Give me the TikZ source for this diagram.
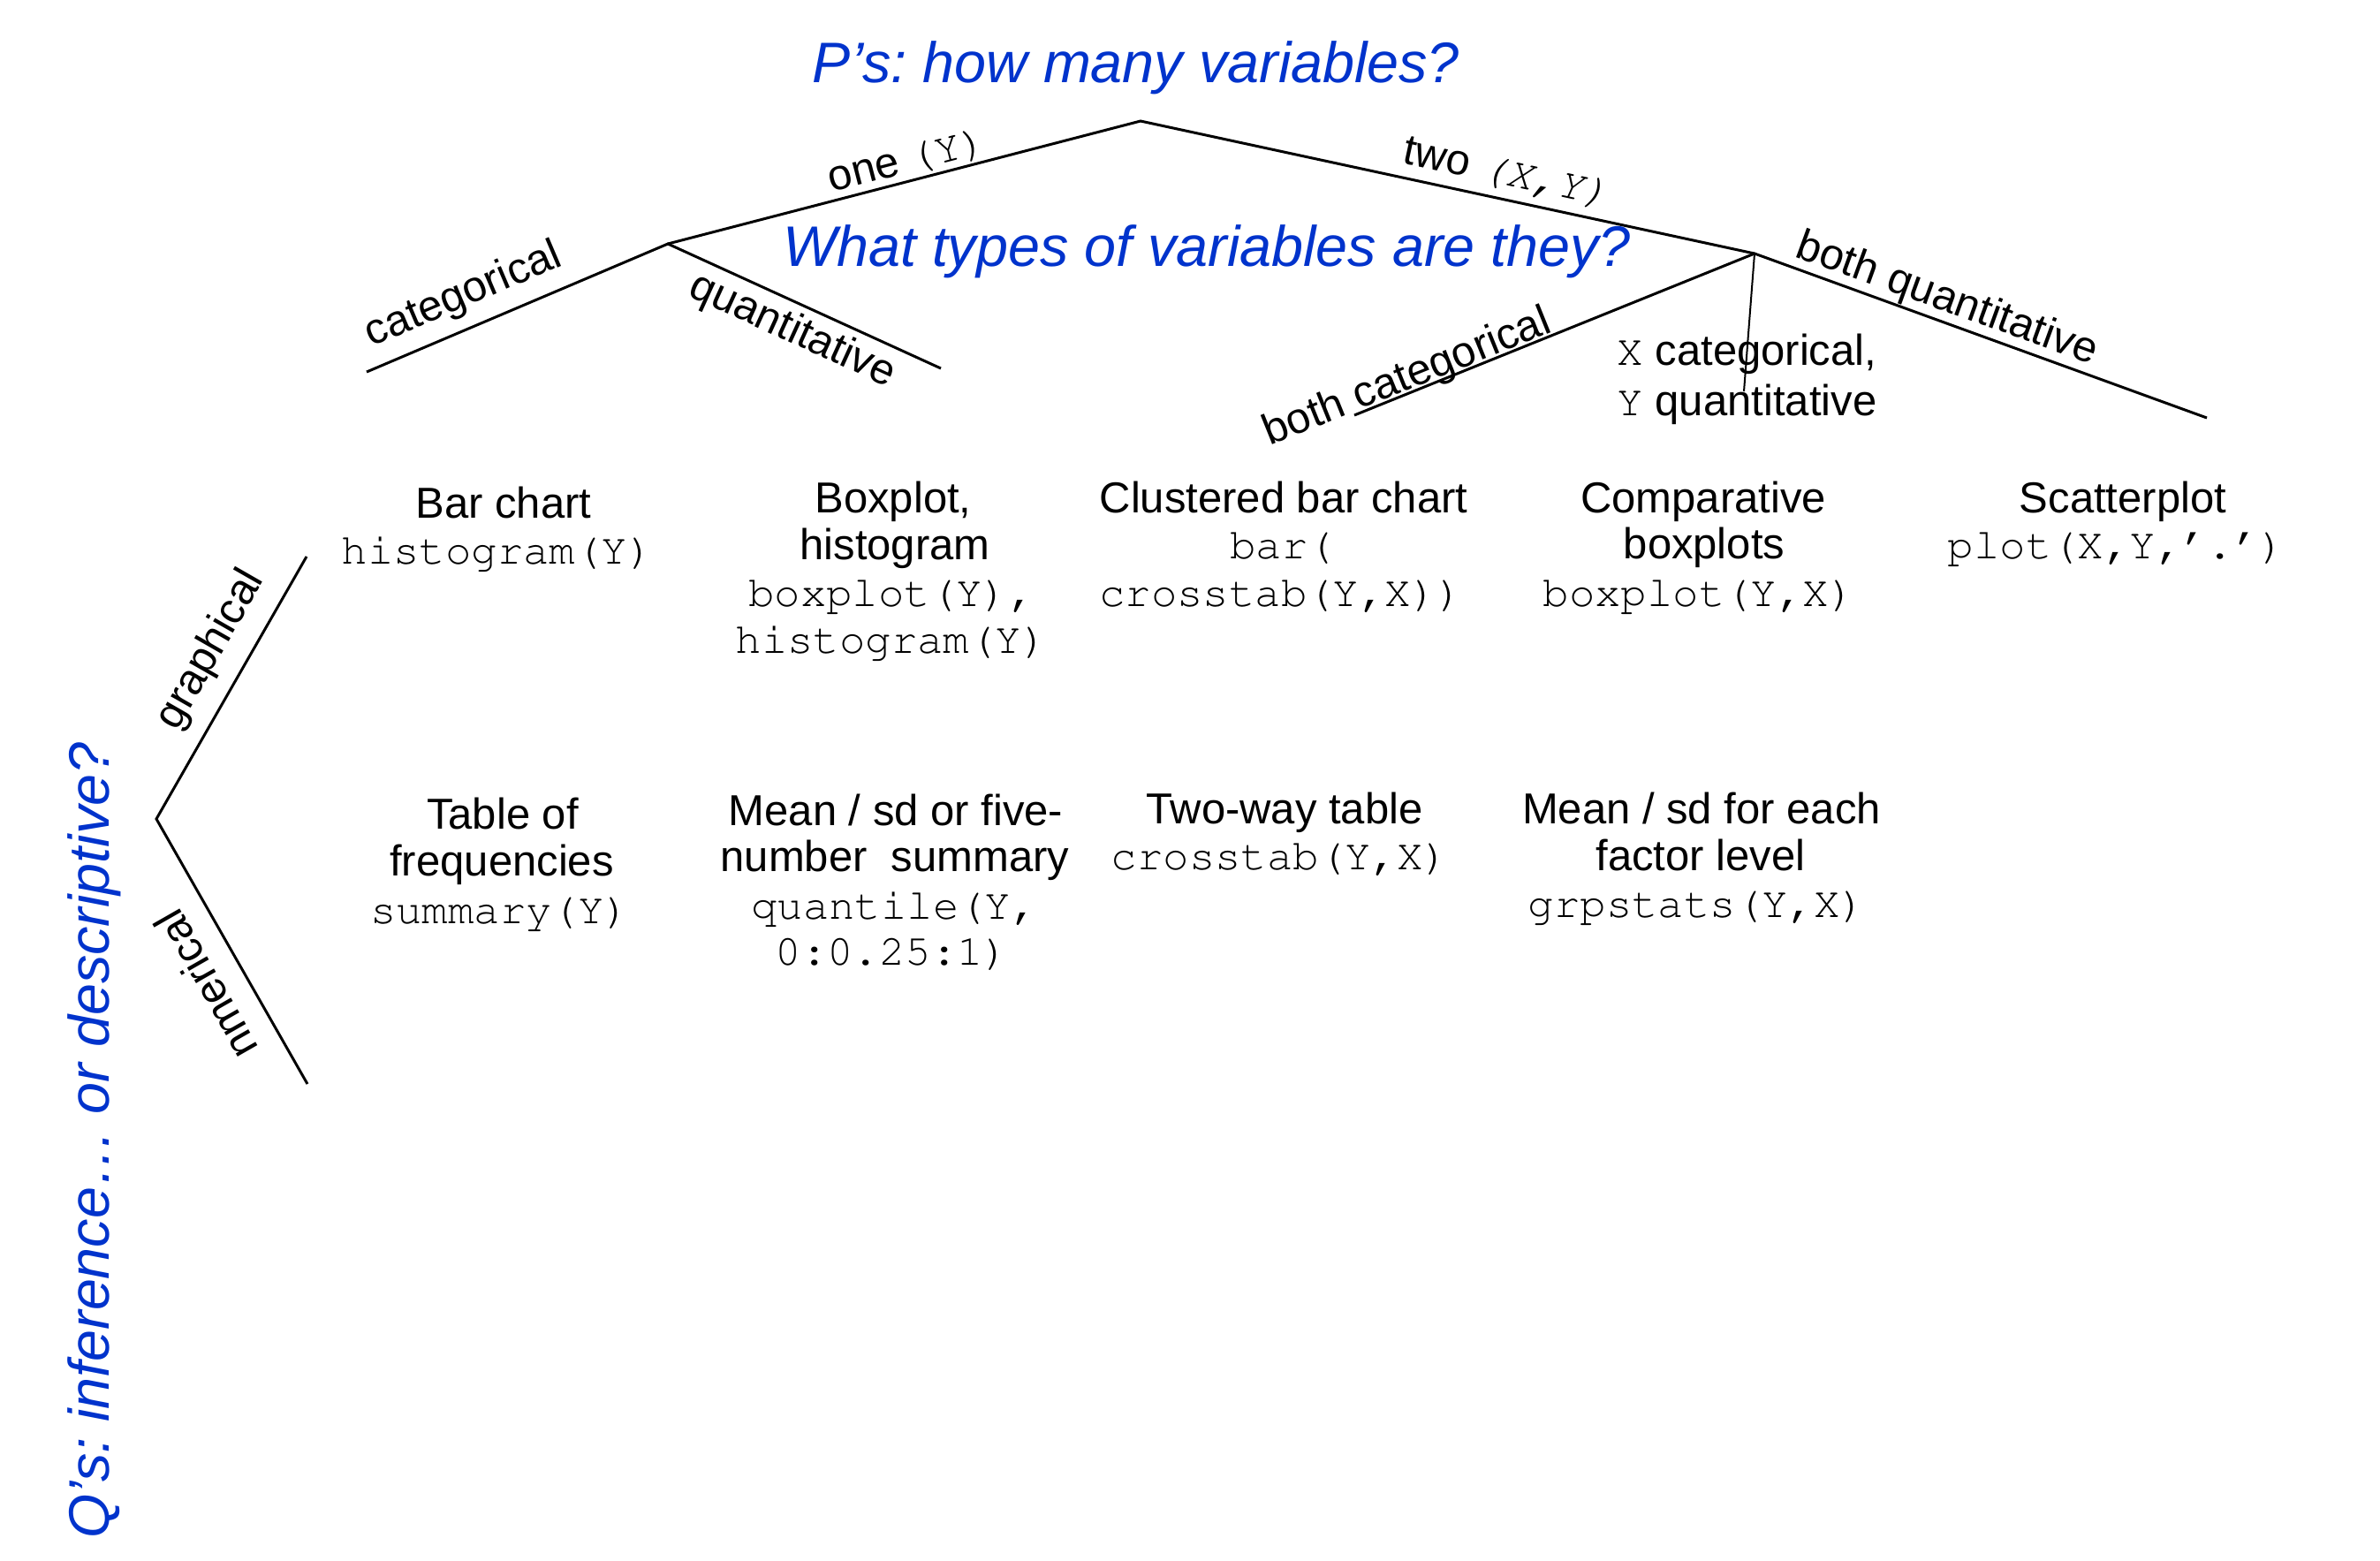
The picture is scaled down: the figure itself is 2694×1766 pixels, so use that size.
\documentclass[tikz,border=0pt]{standalone}
\usepackage[T1]{fontenc}
\usepackage{fontspec}
\setmainfont{Liberation Sans}
\frenchspacing
\definecolor{qblue}{RGB}{0,51,204}
\newcommand\cour{\fontencoding{T1}\fontfamily{pcr}\fontseries{m}\fontshape{n}\selectfont}
\begin{document}
\begin{tikzpicture}[x=0.3pt,y=-0.3pt,
  ln/.style={line width=0.9pt},
  thinln/.style={line width=0.6pt},
  lbl/.style={inner sep=0pt, font=\fontsize{14.7}{17}\selectfont},
  ttl/.style={inner sep=0pt, anchor=base, text=qblue, font=\fontsize{19.4}{23}\selectfont\itshape},
  txt/.style={inner sep=0pt, anchor=base, font=\fontsize{14.7}{17}\selectfont},
  codetxt/.style={inner sep=0pt, anchor=base, font=\fontsize{14.7}{17}\selectfont\cour},
]
\useasboundingbox (0,0) rectangle (2694,1766);

% tree coordinates
\coordinate (A) at (1291,137);
\coordinate (B) at (756,276);
\coordinate (Bl) at (415,421);
\coordinate (Br) at (1065,417);
\coordinate (C) at (1986,287);
\coordinate (Cl) at (1533,470);
\coordinate (Cm) at (1974,443);
\coordinate (Cr) at (2498,473);
\coordinate (D) at (177,927);
\coordinate (G) at (347,630);
\coordinate (N) at (348,1227);

\draw[ln] (B) -- (A) -- (C);
\draw[ln] (Bl) -- (B) -- (Br);
\draw[ln] (Cl) -- (C) -- (Cr);
\draw[thinln] (C) -- (Cm);
\draw[ln] (G) -- (D) -- (N);

% titles
\node[ttl] (tp) at (1286,93) {P’s: how many variables?};
\node[ttl] (tw) at (1366,301) {What types of variables are they?};
\node[ttl, rotate=90] (tq) at (123,1291) {Q’s: inference… or descriptive?};

% branch labels
\node[lbl, rotate=14.57, anchor=base west] (lone) at (941,218) {one {\cour(Y)}};
\node[lbl, rotate=-12.18, anchor=base west] (ltwo) at (1586,184) {two {\cour\slshape(X,Y)}};
\node[lbl, rotate=23.04, anchor=base west] (lcat) at (420,393) {categorical};
\node[lbl, rotate=-24.53, anchor=base west] (lquant) at (777,334) {quantitative};
\node[lbl, rotate=22, anchor=base west] (lbc) at (1437,505) {both categorical};
\node[lbl, rotate=-19.96, anchor=base west] (lbq) at (2030,290) {both quantitative};
\node[lbl, anchor=base west] (lxc) at (1830,413) {{\cour X} categorical,};
\node[lbl, anchor=base west] (lyq) at (1830,470) {{\cour Y} quantitative};
\node[lbl, rotate=60.2, anchor=base] (lgr) at (250,742) {graphical};
\node[lbl, rotate=119.7, anchor=base] (lnum) at (248,1106) {nmerical};

% column 1
\node[txt] (a1) at (570,586) {Bar chart};
\node[codetxt] (a2) at (563,638) {histogram(Y)};
\node[txt] (a3) at (569,938) {Table of};
\node[txt] (a4) at (568,991) {frequencies};
\node[codetxt] (a5) at (566,1045) {summary(Y)};

% column 2
\node[txt] (b1) at (1011,580) {Boxplot,};
\node[txt] (b2) at (1013,633) {histogram};
\node[codetxt] (b3) at (1009,686) {boxplot(Y),};
\node[codetxt] (b4) at (1009,739) {histogram(Y)};
\node[txt] (b5) at (1014,934) {Mean / sd or five-};
\node[txt] (b6) at (1013,986) {number\ \ summary};
\node[codetxt] (b7) at (1012,1040) {quantile(Y,};
\node[codetxt] (b8) at (1010,1092) {0:0.25:1)};

% column 3
\node[txt] (c1) at (1453,580) {Clustered bar chart};
\node[codetxt] (c2) at (1451,632) {bar(};
\node[codetxt] (c3) at (1450,686) {crosstab(Y,X))};
\node[txt] (c4) at (1454,932) {Two-way table};
\node[codetxt] (c5) at (1449,984) {crosstab(Y,X)};

% column 4
\node[txt] (d1) at (1928,580) {Comparative};
\node[txt] (d2) at (1929,632) {boxplots};
\node[codetxt] (d3) at (1923,686) {boxplot(Y,X)};
\node[txt] (d4) at (1926,932) {Mean / sd for each};
\node[txt] (d5) at (1925,985) {factor level};
\node[codetxt] (d6) at (1921,1038) {grpstats(Y,X)};

% column 5
\node[txt] (e1) at (2403,580) {Scatterplot};
\node[codetxt] (e2) at (2396,632) {plot(X,Y,'.')};
\end{tikzpicture}
\end{document}
